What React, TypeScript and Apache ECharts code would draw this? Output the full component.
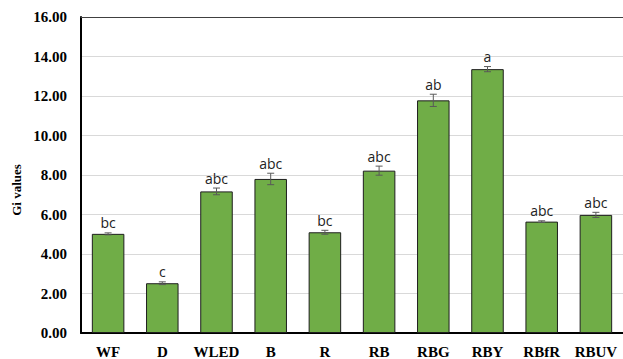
import React, { useEffect, useRef } from "react";
import * as echarts from "echarts";

const categories = ["WF", "D", "WLED", "B", "R", "RB", "RBG", "RBY", "RBfR", "RBUV"];
const values = [5.02, 2.52, 7.17, 7.8, 5.1, 8.22, 11.78, 13.36, 5.64, 5.98];
const errors = [0.05, 0.07, 0.17, 0.29, 0.1, 0.23, 0.31, 0.13, 0.04, 0.13];
const letters = ["bc", "c", "abc", "abc", "bc", "abc", "ab", "a", "abc", "abc"];

export default function App() {
  const ref = useRef<HTMLDivElement>(null);
  useEffect(() => {
    document.body.style.margin = "0";
    const chart = echarts.init(ref.current!, null, { renderer: "svg" });
    const serif = "Times New Roman, Liberation Serif, serif";
    chart.setOption({
      animation: false,
      backgroundColor: "#ffffff",
      grid: { left: 81, top: 17, bottom: 26, width: 546 },
      xAxis: [
        {
          type: "category",
          data: categories,
          axisLine: { lineStyle: { color: "#000", width: 2 } },
          axisTick: { show: false },
          axisLabel: { interval: 0, color: "#000", fontFamily: serif, fontWeight: "bold", fontSize: 15, margin: 11 },
        },
        {
          type: "category",
          data: categories,
          position: "top",
          axisLine: { show: true, lineStyle: { color: "#404040", width: 1 } },
          axisTick: { show: false },
          axisLabel: { show: false },
        },
      ],
      yAxis: {
        type: "value",
        min: 0,
        max: 16,
        interval: 2,
        axisLine: { show: true, lineStyle: { color: "#000", width: 2 } },
        axisTick: { show: false },
        splitLine: { lineStyle: { color: "#d9d9d9", width: 1 } },
        axisLabel: {
          color: "#000",
          fontFamily: serif,
          fontWeight: "bold",
          fontSize: 15,
          margin: 14,
          formatter: (v: number) => v.toFixed(2),
        },
      },
      graphic: [
        {
          type: "text",
          x: 16,
          y: 190,
          rotation: Math.PI / 2,
          style: {
            text: "Gi values",
            fontFamily: serif,
            fontWeight: "bold",
            fontSize: 13,
            fill: "#000",
            align: "center",
            verticalAlign: "middle",
          },
        },
      ],
      series: [
        {
          type: "bar",
          data: values,
          barCategoryGap: "40%",
          itemStyle: { color: "#70AD47", borderColor: "#1e1e1e", borderWidth: 1 },
          z: 2,
        },
        {
          type: "custom",
          data: values.map((v, i) => [i, v, errors[i]]),
          z: 5,
          renderItem: (params: any, api: any) => {
            const i = api.value(0);
            const v = api.value(1);
            const e = api.value(2);
            const top = api.coord([i, v + e]);
            const bot = api.coord([i, v - e]);
            const x = top[0];
            const hw = 3.5;
            const st = { stroke: "#595959", lineWidth: 1 };
            return {
              type: "group",
              children: [
                { type: "line", shape: { x1: x, y1: top[1], x2: x, y2: bot[1] }, style: st },
                { type: "line", shape: { x1: x - hw, y1: top[1], x2: x + hw, y2: top[1] }, style: st },
                { type: "line", shape: { x1: x - hw, y1: bot[1], x2: x + hw, y2: bot[1] }, style: st },
                {
                  type: "text",
                  x: x,
                  y: top[1] - 3,
                  style: {
                    text: letters[params.dataIndex],
                    fontFamily: "Open Sans",
                    fontSize: 14,
                    fill: "#222",
                    align: "center",
                    verticalAlign: "bottom",
                  },
                },
              ],
            };
          },
        },
      ],
    });
    return () => chart.dispose();
  }, []);
  return <div ref={ref} style={{ width: 623, height: 359 }} />;
}
